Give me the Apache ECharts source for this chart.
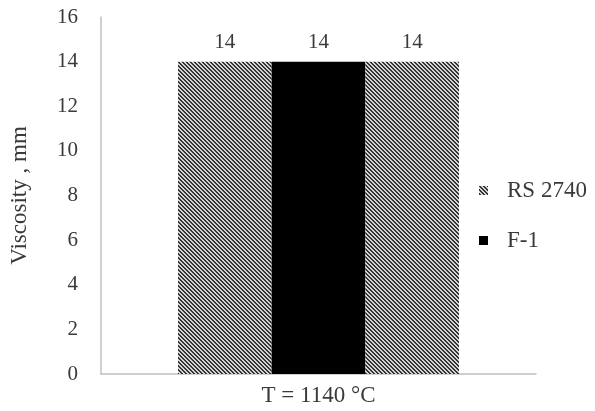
<!DOCTYPE html>
<html>
<head>
<meta charset="utf-8">
<style>
  html, body { margin: 0; padding: 0; background: #ffffff; }
  #chart { width: 595px; height: 411px; }
</style>
<script src="https://cdn.jsdelivr.net/npm/echarts@6/dist/echarts.min.js"></script>
</head>
<body>
<div id="chart"></div>
<script>
// Viscosity of the two materials at T = 1140 °C
const categories = ['T = 1140 °C'];
const rsFirst = [14];
const f1 = [14];
const rsSecond = [14];
const yTicks = { min: 0, max: 16, interval: 2 };

// Fine diagonal hatch used for the RS 2740 bars
function makeHatch() {
  const c = document.createElement('canvas');
  c.width = 4; c.height = 4;
  const ctx = c.getContext('2d');
  ctx.fillStyle = '#d4d4d4';
  ctx.fillRect(0, 0, 4, 4);
  ctx.fillStyle = '#343434';
  for (let y = 0; y < 4; y++) {
    for (let x = 0; x < 4; x++) {
      const d = ((x - y) % 4 + 4) % 4;
      if (d === 0 || d === 1) ctx.fillRect(x, y, 1, 1);
    }
  }
  return { image: c, repeat: 'repeat' };
}
const hatch = makeHatch();

const font = '"Liberation Serif", "Times New Roman", serif';
const ink = '#3a3a3a';
const labelStyle = {
  show: true,
  position: 'top',
  distance: 9,
  fontFamily: font,
  fontSize: 21,
  color: ink
};

const chart = echarts.init(document.getElementById('chart'), null, { renderer: 'canvas' });
chart.setOption({
  animation: false,
  textStyle: { fontFamily: font },
  grid: { left: 101, right: 59, top: 17, bottom: 37, containLabel: false },
  legend: {
    data: [
      { name: 'RS 2740', icon: 'rect' },
      { name: 'F-1', icon: 'rect' }
    ],
    orient: 'vertical',
    left: 474,
    top: 174,
    itemWidth: 9,
    itemHeight: 9,
    itemGap: 27,
    textStyle: { fontFamily: font, fontSize: 23, color: ink, padding: [0, 0, 0, 14] }
  },
  xAxis: {
    type: 'category',
    data: categories,
    axisLine: { lineStyle: { color: '#c0c0c0', width: 1.5 } },
    axisTick: { show: false },
    axisLabel: { fontFamily: font, fontSize: 23, color: ink, margin: 10 }
  },
  yAxis: {
    type: 'value',
    min: yTicks.min,
    max: yTicks.max,
    interval: yTicks.interval,
    name: 'Viscosity , mm',
    nameLocation: 'middle',
    nameGap: 70,
    nameTextStyle: { fontFamily: font, fontSize: 23, color: ink },
    axisLine: { show: true, lineStyle: { color: '#c0c0c0', width: 1.5 } },
    axisTick: { show: false },
    splitLine: { show: false },
    axisLabel: { fontFamily: font, fontSize: 21, color: ink, margin: 23 }
  },
  series: [
    {
      name: 'RS 2740', type: 'bar', data: rsFirst,
      barGap: '0%', barCategoryGap: '35.4%',
      itemStyle: { color: hatch },
      label: labelStyle
    },
    {
      name: 'F-1', type: 'bar', data: f1,
      barGap: '0%', barCategoryGap: '35.4%',
      itemStyle: { color: '#000000' },
      label: labelStyle
    },
    {
      name: 'RS 2740 ', type: 'bar', data: rsSecond,
      barGap: '0%', barCategoryGap: '35.4%',
      itemStyle: { color: hatch },
      label: labelStyle
    }
  ]
});
</script>
</body>
</html>
